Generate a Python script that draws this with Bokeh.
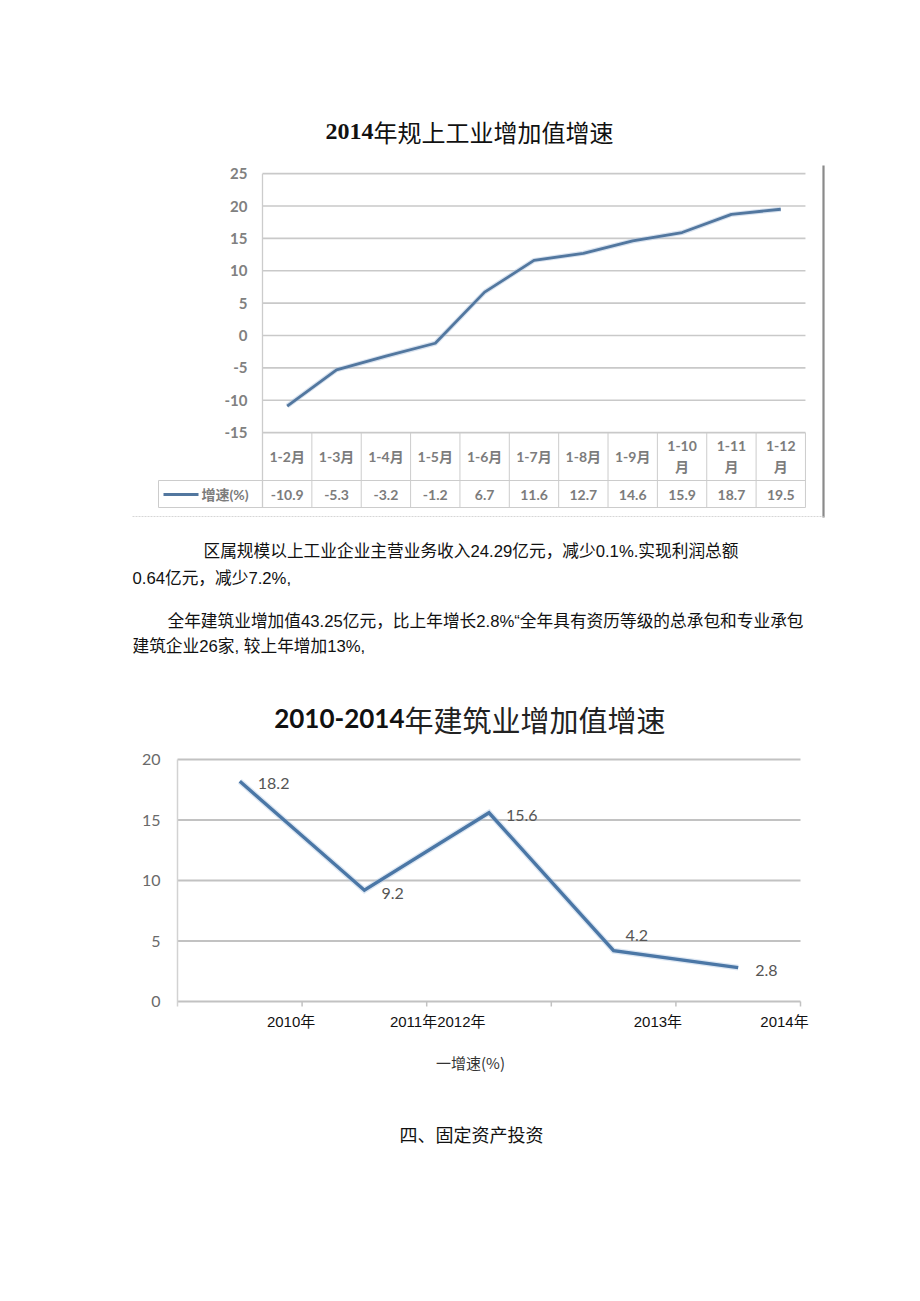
from bokeh.plotting import figure
from bokeh.models import Range1d
from bokeh.core.properties import value
from bokeh.embed import file_html
from bokeh.resources import INLINE

# ------------------------------------------------------------------ data
title_1 = ("2014", "年规上工业增加值增速")
months = ["1-2月", "1-3月", "1-4月", "1-5月", "1-6月", "1-7月",
          "1-8月", "1-9月", "1-10月", "1-11月", "1-12月"]
growth_2014 = [-10.9, -5.3, -3.2, -1.2, 6.7, 11.6, 12.7, 14.6, 15.9, 18.7, 19.5]
y_ticks_1 = [25, 20, 15, 10, 5, 0, -5, -10, -15]
series_label_1 = "增速(%)"

paragraphs = [
    "区属规模以上工业企业主营业务收入24.29亿元，减少0.1%.实现利润总额",
    "0.64亿元，减少7.2%,",
    "全年建筑业增加值43.25亿元，比上年增长2.8%“全年具有资历等级的总承包和专业承包",
    "建筑企业26家, 较上年增加13%,",
]

title_2 = ("2010-2014", "年建筑业增加值增速")
years = ["2010年", "2011年", "2012年", "2013年", "2014年"]
growth_build = [18.2, 9.2, 15.6, 4.2, 2.8]
y_ticks_2 = [0, 5, 10, 15, 20]
x_labels_2 = ["2010年", "2011年2012年", "2013年", "2014年"]   # as printed
legend_2 = "一增速(%)"

heading = "四、固定资产投资"

# ------------------------------------------------------------------ layout
W, H = 904, 1285
PL, PT = 0, 0   # figure is placed at the page origin
# chart 1 scale (page px per unit)
C1_X0, C1_DX, C1_Y0, C1_DY = 286.68, 49.36, 335.0, 6.475
# chart 2 scale
C2_X0, C2_DX, C2_Y0, C2_DY = 239.3, 124.6, 1001.0, 12.1


def x1(px):
    return (px - C1_X0) / C1_DX


def y1(py):
    return (C1_Y0 - py) / C1_DY


def x2(px):
    return (px - C2_X0) / C2_DX


def y2(py):
    return (C2_Y0 - py) / C2_DY


p = figure(width=W, height=H,
           x_range=Range1d(x1(PL), x1(PL + W)),
           y_range=Range1d(y1(PT + H), y1(PT)),
           x_axis_location=None, y_axis_location=None,
           min_border=0, toolbar_location=None, output_backend="svg",
           outline_line_color=None, background_fill_color="white",
           border_fill_color="white")
p.grid.visible = False
p.extra_x_ranges = {"c2x": Range1d(x2(PL), x2(PL + W))}
p.extra_y_ranges = {"c2y": Range1d(y2(PT + H), y2(PT))}
C2 = dict(x_range_name="c2x", y_range_name="c2y")

CJK = "'Noto Sans CJK SC'"
LATO_CJK = value("Lato, 'Noto Sans CJK SC'")
ARIAL_CJK = value("'Liberation Sans', 'Noto Sans CJK SC'")

# ================================================================ chart 1
n1 = len(months)
left1, right1 = -0.5, n1 - 0.5
grid_c = "#c9c9c9"

# title
p.text(x=[x1(373)], y=[y1(131)], text=[title_1[0]], text_align="right",
       text_baseline="middle", text_font=value("Liberation Serif"),
       text_font_style="bold", text_font_size="24px", text_color="#111111")
p.text(x=[x1(373)], y=[y1(131)], text=[title_1[1]], text_align="left",
       text_baseline="middle", text_font=value(CJK),
       text_font_size="24px", text_color="#111111")

# horizontal grid lines
p.segment(x0=[left1] * len(y_ticks_1), y0=y_ticks_1,
          x1=[right1] * len(y_ticks_1), y1=y_ticks_1,
          line_color=grid_c, line_width=1.6)

# y tick labels
p.text(x=[x1(247)] * len(y_ticks_1), y=y_ticks_1, text=[str(t) for t in y_ticks_1],
       text_align="right", text_baseline="middle", text_font=value("Lato"),
       text_font_style="bold", text_font_size="15px", text_color="#808080")

# data table
tbl_c = "#cccccc"
row_mid, row_bot = y1(480), y1(507)
p.segment(x0=[left1], y0=[max(y_ticks_1)], x1=[left1], y1=[row_bot],
          line_color=tbl_c, line_width=1.3)
xs_v = [i + 0.5 for i in range(n1)]
p.segment(x0=xs_v, y0=[min(y_ticks_1)] * n1, x1=xs_v, y1=[row_bot] * n1,
          line_color=tbl_c, line_width=1.0)
p.segment(x0=[x1(158), x1(158)], y0=[row_mid, row_bot],
          x1=[right1, right1], y1=[row_mid, row_bot],
          line_color=tbl_c, line_width=1.0)
p.segment(x0=[x1(158)], y0=[row_mid], x1=[x1(158)], y1=[row_bot],
          line_color=tbl_c, line_width=1.0)

# category labels (long ones wrap)
one_x, one_t, two_x, two_a, two_b = [], [], [], [], []
for i, m in enumerate(months):
    if len(m) > 4:
        two_x.append(i)
        two_a.append(m[:-1])
        two_b.append(m[-1])
    else:
        one_x.append(i)
        one_t.append(m)
lab_kw = dict(text_align="center", text_baseline="middle", text_font=LATO_CJK,
              text_font_style="bold", text_font_size="14px", text_color="#7c7c7c")
p.text(x=one_x, y=[y1(456)] * len(one_x), text=one_t, **lab_kw)
p.text(x=two_x, y=[y1(445)] * len(two_x), text=two_a, **lab_kw)
p.text(x=two_x, y=[y1(466)] * len(two_x), text=two_b, **lab_kw)

# value row
p.text(x=list(range(n1)), y=[y1(494)] * n1, text=[f"{v:g}" for v in growth_2014],
       **lab_kw)

# legend key
line_c1 = "#52779f"
p.segment(x0=[x1(163)], y0=[y1(494)], x1=[x1(198)], y1=[y1(494)],
          line_color=line_c1, line_width=3)
p.text(x=[x1(201)], y=[y1(494)], text=[series_label_1], text_align="left",
       text_baseline="middle", text_font=LATO_CJK, text_font_style="bold",
       text_font_size="14px", text_color="#7c7c7c")

# series line
p.line(x=list(range(n1)), y=growth_2014, line_color="#a9bfdc", line_width=5,
       line_alpha=0.45, line_join="round")
p.line(x=list(range(n1)), y=growth_2014, line_color=line_c1, line_width=2.8,
       line_join="round")

# chart frame lines (right border, bottom)
p.segment(x0=[x1(823)], y0=[y1(165)], x1=[x1(823)], y1=[y1(517)],
          line_color="#8a8a8a", line_width=2.2)
p.segment(x0=[x1(132)], y0=[y1(516)], x1=[x1(823)], y1=[y1(516)],
          line_color="#d6d6d6", line_width=1.2, line_dash="2 1")

# ================================================================ paragraphs
para_x = [203, 132, 167, 132]
para_y = [551, 578, 621, 646]
p.text(x=[x1(v) for v in para_x], y=[y1(v) for v in para_y], text=paragraphs,
       text_align="left", text_baseline="middle", text_font=ARIAL_CJK,
       text_font_size="16.7px", text_color="#111111")

# ================================================================ chart 2
n2 = len(years)
left2, right2 = -0.5, n2 - 0.5
grid_c2 = "#c2c2c2"

# title
p.text(x=[x2(404)], y=[y2(718)], text=[title_2[0]], text_align="right",
       text_baseline="middle", text_font=value("Lato"), text_font_style="bold",
       text_font_size="26px", text_color="#111111", **C2)
p.text(x=[x2(404)], y=[y2(718)], text=[title_2[1]], text_align="left",
       text_baseline="middle", text_font=value(CJK),
       text_font_size="29px", text_color="#222222", **C2)

# grid lines
p.segment(x0=[left2] * len(y_ticks_2), y0=y_ticks_2,
          x1=[right2] * len(y_ticks_2), y1=y_ticks_2,
          line_color=grid_c2, line_width=2, **C2)
# vertical axis line
p.segment(x0=[left2], y0=[max(y_ticks_2)], x1=[left2], y1=[y2(1006)],
          line_color="#d2d2d2", line_width=1.5, **C2)
# tick marks on category boundaries
bx = [k + 0.5 for k in range(n2)]
p.segment(x0=bx, y0=[0] * n2, x1=bx, y1=[y2(1006)] * n2,
          line_color="#c2c2c2", line_width=1.5, **C2)

# y labels
p.text(x=[x2(160)] * len(y_ticks_2), y=y_ticks_2, text=[str(t) for t in y_ticks_2],
       text_align="right", text_baseline="middle", text_font=value("Lato"),
       text_font_size="16px", text_color="#6a6a6a", **C2)

# series
line_c2 = "#4b77a6"
p.line(x=list(range(n2)), y=growth_build, line_color="#aac3e0", line_width=6,
       line_alpha=0.4, line_join="miter", **C2)
p.line(x=list(range(n2)), y=growth_build, line_color=line_c2, line_width=3.4,
       line_join="miter", **C2)

# data labels
lab_dx = [18, 17, 17, 12, 17]
lab_dy = [2, 3, 3, -15, 3]
p.text(x=[i + dx / C2_DX for i, dx in enumerate(lab_dx)],
       y=[v - dy / C2_DY for v, dy in zip(growth_build, lab_dy)],
       text=[f"{v:g}" for v in growth_build], text_align="left",
       text_baseline="middle", text_font=value("Lato"), text_font_size="16px",
       text_color="#555555", **C2)

# category labels, as printed in the source
xl_at = [0.5, 1.5, 3.5, 4.5]
xl_dx = [-11, 11, -18, -16]
p.text(x=[a + d / C2_DX for a, d in zip(xl_at, xl_dx)], y=[y2(1021)] * len(x_labels_2),
       text=x_labels_2, text_align="center", text_baseline="middle",
       text_font=ARIAL_CJK, text_font_size="15px", text_color="#111111", **C2)

# legend
p.text(x=[x2(470)], y=[y2(1062)], text=[legend_2], text_align="center",
       text_baseline="middle", text_font=value(CJK), text_font_size="15px",
       text_color="#333333", **C2)

# ================================================================ heading
p.text(x=[x1(471)], y=[y1(1133)], text=[heading], text_align="center",
       text_baseline="middle", text_font=value(CJK), text_font_size="18px",
       text_color="#111111")

open("out.html", "w").write(file_html(p, INLINE))
